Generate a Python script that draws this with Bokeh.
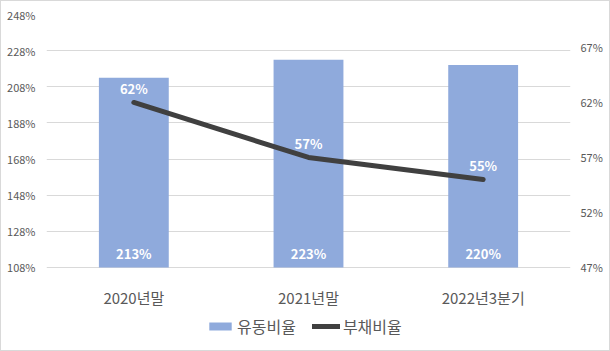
from bokeh.plotting import figure
from bokeh.models import (Range1d, LinearAxis, FixedTicker, ColumnDataSource,
                          Legend, LegendItem, PrintfTickFormatter)
from bokeh.core.properties import value
from bokeh.embed import file_html
from bokeh.resources import INLINE

categories = ["2020년말", "2021년말", "2022년3분기"]
current_ratio = [213, 223, 220]   # 유동비율 (%)
debt_ratio = [62, 57, 55]         # 부채비율 (%)
left_ticks = [108, 128, 148, 168, 188, 208, 228, 248]
right_ticks = [47, 52, 57, 62, 67]

FONT = "Noto Sans CJK KR"
GRAY = "#595959"

src = ColumnDataSource(dict(
    cat=categories,
    cur=current_ratio,
    debt=debt_ratio,
    cur_lbl=[f"{v}%" for v in current_ratio],
    debt_lbl=[f"{v}%" for v in debt_ratio],
))

BASE = left_ticks[0]
# frame extends below the value axis so that category labels and legend sit inside it
p = figure(x_range=categories, y_range=Range1d(67.6, 248),
           frame_width=524, frame_height=326,
           output_backend="svg", toolbar_location=None,
           min_border_left=45, min_border_right=39, min_border_top=13, min_border_bottom=10)
p.styles = {"border": "1px solid #d9d9d9"}
p.outline_line_color = None
p.extra_y_ranges = {"right": Range1d(40.36, 70)}

bars = p.vbar(x="cat", top="cur", bottom=BASE, width=0.4, source=src,
              fill_color="#8faadc", line_color=None)
line = p.line(x="cat", y="debt", source=src, y_range_name="right",
              line_width=5, line_color="#404040", line_cap="round", line_join="round")

p.text(x="cat", y=BASE, text="cur_lbl", source=src, y_offset=-14,
       text_align="center", text_baseline="middle", text_color="white",
       text_font=value(FONT), text_font_style="bold", text_font_size="13px")
p.text(x="cat", y="debt", text="debt_lbl", source=src, y_range_name="right", y_offset=-14,
       text_align="center", text_baseline="middle", text_color="white",
       text_font=value(FONT), text_font_style="bold", text_font_size="13px")
# category labels
p.text(x="cat", y=BASE, text="cat", source=src, y_offset=30,
       text_align="center", text_baseline="middle", text_color=GRAY,
       text_font=value(FONT), text_font_size="15px")

# left axis
ya = p.yaxis[0]
ya.ticker = FixedTicker(ticks=left_ticks)
ya.formatter = PrintfTickFormatter(format="%d%%")
ya.axis_line_color = None
ya.major_tick_line_color = None
ya.minor_tick_line_color = None
ya.major_tick_out = 0
ya.major_tick_in = 0
ya.major_label_standoff = 11
ya.major_label_text_font = FONT
ya.major_label_text_font_size = "11px"
ya.major_label_text_color = GRAY

# right axis
ra = LinearAxis(y_range_name="right", ticker=FixedTicker(ticks=right_ticks),
                formatter=PrintfTickFormatter(format="%d%%"))
ra.axis_line_color = None
ra.major_tick_line_color = None
ra.minor_tick_line_color = None
ra.major_tick_out = 0
ra.major_tick_in = 0
ra.major_label_standoff = 10
ra.major_label_text_font = FONT
ra.major_label_text_font_size = "11px"
ra.major_label_text_color = GRAY
p.add_layout(ra, "right")

p.xaxis.visible = False
p.xgrid.grid_line_color = None
p.ygrid.ticker = FixedTicker(ticks=left_ticks)
p.ygrid.grid_line_color = "#d9d9d9"

legend = Legend(items=[LegendItem(label="유동비율", renderers=[bars]),
                       LegendItem(label="부채비율", renderers=[line])],
                orientation="horizontal", location=(160, 2),
                border_line_color=None, background_fill_alpha=0,
                label_text_font=FONT, label_text_font_size="16px",
                label_text_color=GRAY, glyph_width=28, glyph_height=10,
                label_standoff=3, spacing=16, padding=0, margin=0)
p.add_layout(legend, "center")

open("out.html", "w").write(file_html(p, INLINE))
